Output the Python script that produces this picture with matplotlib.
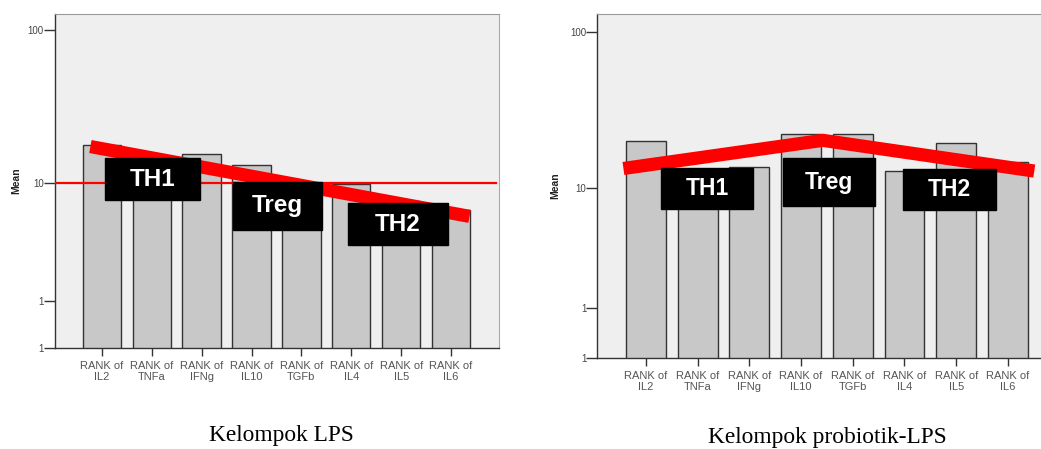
import numpy as np
import matplotlib.pyplot as plt
from matplotlib.patches import Rectangle

# data (means of ranks)
kategori = ['RANK of\nIL2', 'RANK of\nTNFa', 'RANK of\nIFNg', 'RANK of\nIL10',
            'RANK of\nTGFb', 'RANK of\nIL4', 'RANK of\nIL5', 'RANK of\nIL6']
mean_lps = [17.6, 14.0, 15.4, 13.1, 9.0, 9.8, 7.0, 5.9]
mean_pro = [20.0, 12.0, 13.7, 22.3, 22.3, 12.9, 19.5, 14.7]

# red trend lines drawn on top of the bars
tren_lps_x = [-0.23, 7.37]
tren_lps_y = [17.3, 5.2]
tren_pro_x = [-0.435, 3.42, 7.51]
tren_pro_y = [13.4, 20.3, 12.9]

grup = ['TH1', 'Treg', 'TH2']
judul = ['Kelompok LPS', 'Kelompok probiotik-LPS']

# SPSS log axis: upper decade is drawn taller than the lower one
def maju(v):
    lv = np.log10(np.clip(v, 1e-6, None))
    return np.where(lv <= 1, lv, 1 + (lv - 1) * 1.3)

def balik(u):
    return np.where(u <= 1, 10.0 ** u, 10.0 ** (1 + (u - 1) / 1.3))

plt.rcParams['font.family'] = ['Liberation Sans', 'DejaVu Sans']

fig = plt.figure(figsize=(10.41, 4.49), dpi=100)


def gambar_panel(rect, nilai, tx, ty, ubawah, uatas, xmax, kotak, fs_kotak, garis10, spine_kanan, xlabel_y):
    ax = fig.add_axes(rect)
    ax.set_facecolor('#efefef')
    ax.set_yscale('function', functions=(maju, balik))
    x = np.arange(len(kategori))
    ax.bar(x, nilai, width=0.77, bottom=0.01, color='#c8c8c8', edgecolor='#333333',
           linewidth=1.0, zorder=2)
    if garis10:
        ax.axhline(10, xmax=0.993, color='#ff0000', linewidth=1.6, zorder=3)
    ax.plot(tx, ty, color='#ff0000', linewidth=9.5, solid_capstyle='butt',
            solid_joinstyle='miter', zorder=4)
    ybawah = float(balik(ubawah))
    ax.set_ylim(ybawah, float(balik(uatas)))
    ax.set_xlim(-0.94, xmax)
    ax.set_yticks([ybawah, 1, 10, 100])
    ax.set_yticklabels(['1', '1', '10', '100'])
    ax.minorticks_off()
    ax.set_xticks(x)
    ax.set_xticklabels(kategori, fontsize=8, color='#555555', linespacing=1.15)
    ax.tick_params(axis='y', labelsize=7, labelcolor='#444444', color='#333333',
                   length=8, width=1, pad=0)
    ax.tick_params(axis='x', length=6, width=1, color='#333333', pad=3)
    ax.set_ylabel('Mean', fontsize=7.5, fontweight='bold', color='#222222')
    ax.yaxis.set_label_coords(xlabel_y, 0.5)
    for s in ['left', 'bottom']:
        ax.spines[s].set_color('#333333')
        ax.spines[s].set_linewidth(1.0)
    ax.spines['top'].set_color('#999999')
    ax.spines['right'].set_color('#aaaaaa')
    ax.spines['right'].set_visible(spine_kanan)
    for nama, (kx, ky, kw, kh) in zip(grup, kotak):
        ax.add_patch(Rectangle((kx, ky), kw, kh, transform=ax.transAxes,
                               facecolor='black', edgecolor='black', zorder=5,
                               clip_on=False))
        ax.text(kx + kw / 2, ky + kh / 2, nama, transform=ax.transAxes,
                ha='center', va='center', color='white', fontsize=fs_kotak,
                fontweight='bold', zorder=6)
    return ax


kotak_lps = [(0.113, 0.443, 0.214, 0.126),
             (0.401, 0.354, 0.200, 0.144),
             (0.660, 0.308, 0.225, 0.126)]
kotak_pro = [(0.1436, 0.4336, 0.208, 0.120),
             (0.418, 0.442, 0.208, 0.140),
             (0.690, 0.430, 0.208, 0.119)]

gambar_panel([0.0528, 0.2249, 0.4265, 0.7439], mean_lps, tren_lps_x, tren_lps_y,
             -0.403, 2.436, 7.96, kotak_lps, 17.5, True, True, -0.075)
gambar_panel([0.5738, 0.2020, 0.4262, 0.7668], mean_pro, tren_pro_x, tren_pro_y,
             -0.4167, 2.4525, 7.64, kotak_pro, 16.5, False, False, -0.083)

fig.text(0.2705, 0.018, judul[0], ha='center', va='baseline', fontsize=16.8,
         family=['Liberation Serif', 'DejaVu Serif'])
fig.text(0.7945, 0.013, judul[1], ha='center', va='baseline', fontsize=16.8,
         family=['Liberation Serif', 'DejaVu Serif'])

fig.savefig('out.png', dpi=100)
